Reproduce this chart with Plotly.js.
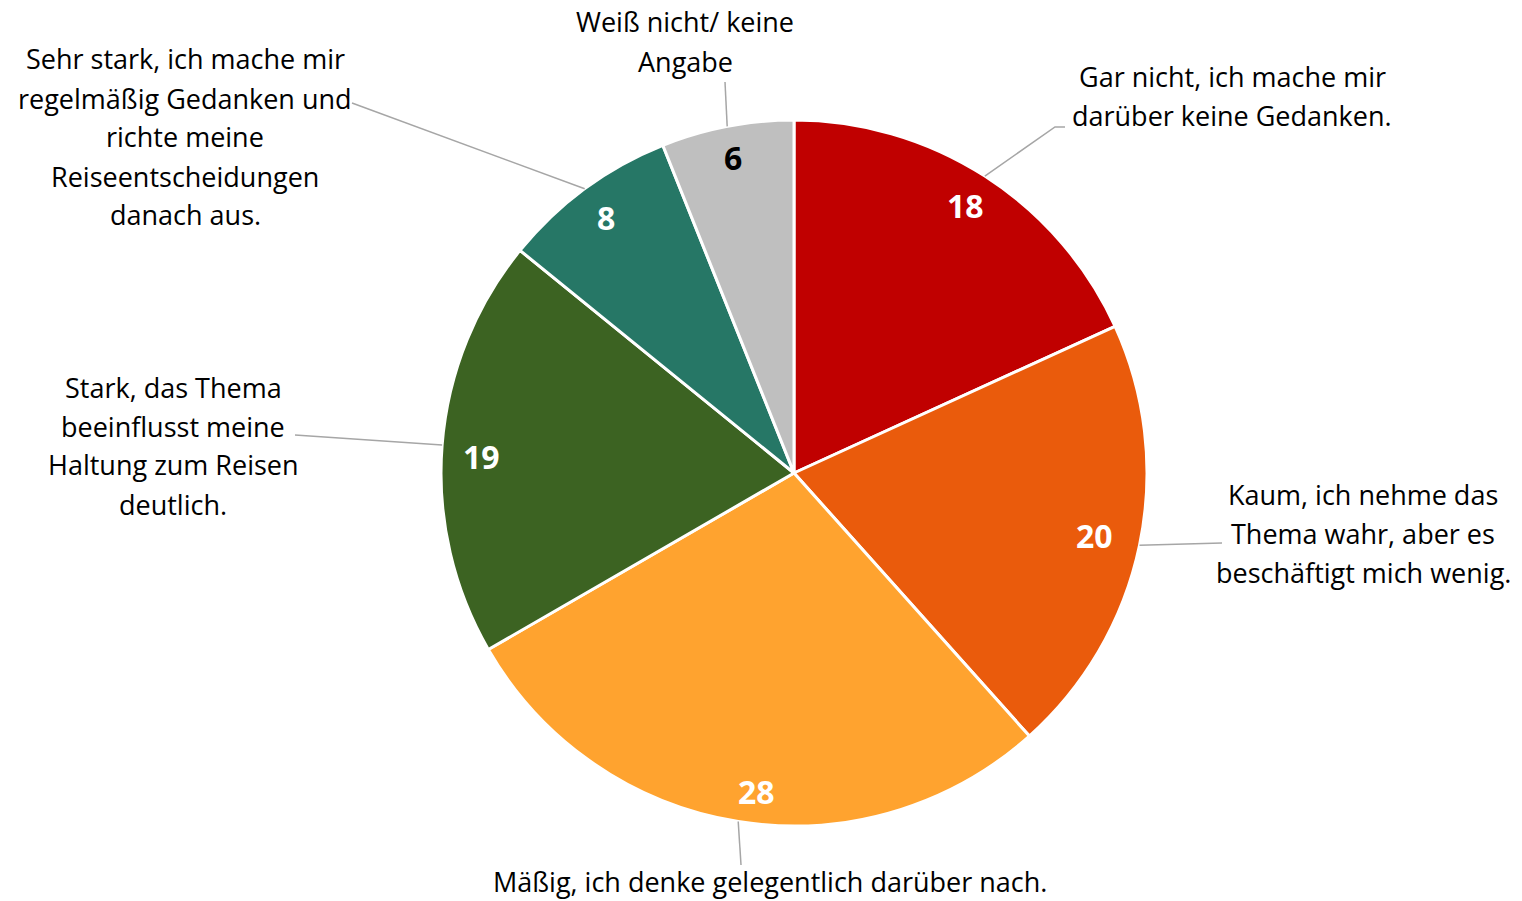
<!DOCTYPE html>
<html>
<head>
<meta charset="utf-8">
<script src="https://cdn.plot.ly/plotly-3.0.1.min.js"></script>
<style>html,body{margin:0;padding:0;background:#fff;}#chart{width:1522px;height:901px;}</style>
</head>
<body>
<div id="chart"></div>
<script>
// ---- data ----
const categories = [
  "Gar nicht, ich mache mir darüber keine Gedanken.",
  "Kaum, ich nehme das Thema wahr, aber es beschäftigt mich wenig.",
  "Mäßig, ich denke gelegentlich darüber nach.",
  "Stark, das Thema beeinflusst meine Haltung zum Reisen deutlich.",
  "Sehr stark, ich mache mir regelmäßig Gedanken und richte meine Reiseentscheidungen danach aus.",
  "Weiß nicht/ keine Angabe"
];
const values = [18, 20, 28, 19, 8, 6];
const labelLines = [
  ["Gar nicht, ich mache mir", "darüber keine Gedanken."],
  ["Kaum, ich nehme das", "Thema wahr, aber es", "beschäftigt mich wenig."],
  ["Mäßig, ich denke gelegentlich darüber nach."],
  ["Stark, das Thema", "beeinflusst meine", "Haltung zum Reisen", "deutlich."],
  ["Sehr stark, ich mache mir", "regelmäßig Gedanken und", "richte meine", "Reiseentscheidungen", "danach aus."],
  ["Weiß nicht/ keine", "Angabe"]
];
const colors = ["#C00000", "#EA5B0C", "#FFA32F", "#3C6322", "#267766", "#BFBFBF"];
const valueTextColors = ["#FFFFFF", "#FFFFFF", "#FFFFFF", "#FFFFFF", "#FFFFFF", "#000000"];

// ---- layout config (pixels) ----
const W = 1522, H = 901;
const CX = 794, CY = 473, R = 353;
const valueRadius = [0.9, 0.87, 0.91, 0.887, 0.9, 0.91];
const valueAngleShift = [0, 0, -2.3, -1.5, 0, 0]; // degrees
const labelPos = [ // center x, first line center y
  [1232, 77], [1363, 494], [770, 881], [173, 387], [185, 59], [685, 22]
];
const leaderPts = [ // intermediate / end points after the slice-edge point
  [[1055, 127], [1065, 127]],
  [[1222, 543]],
  [[741, 865]],
  [[295, 435]],
  [[352, 103]],
  [[725, 82]]
];
const LINE_H = 39;
const FONT = "'Open Sans', 'Noto Sans', sans-serif";

const px = x => x / W;
const py = y => 1 - y / H;

const total = values.reduce((a, b) => a + b, 0);
const annotations = [];
const shapes = [];
let cum = 0;
values.forEach((v, i) => {
  const mid = (cum + v / 2) / total * 2 * Math.PI;
  cum += v;
  // value label
  const rv = valueRadius[i] * R;
  const a = mid + valueAngleShift[i] * Math.PI / 180;
  annotations.push({
    xref: "paper", yref: "paper",
    x: px(CX + rv * Math.sin(a)), y: py(CY - rv * Math.cos(a)),
    text: "<b>" + v + "</b>", showarrow: false,
    xanchor: "center", yanchor: "middle",
    font: {family: FONT, size: 32, color: valueTextColors[i]}
  });
  // leader line
  const ex = CX + R * Math.sin(mid), ey = CY - R * Math.cos(mid);
  let path = "M " + px(ex) + " " + py(ey);
  leaderPts[i].forEach(p => { path += " L " + px(p[0]) + " " + py(p[1]); });
  shapes.push({type: "path", xref: "paper", yref: "paper", path: path,
    line: {color: "#A6A6A6", width: 1.5}});
  // category label lines
  labelLines[i].forEach((t, j) => {
    annotations.push({
      xref: "paper", yref: "paper",
      x: px(labelPos[i][0]), y: py(labelPos[i][1] + j * LINE_H),
      text: t, showarrow: false, xanchor: "center", yanchor: "middle",
      borderpad: 0,
      font: {family: FONT, size: 27, color: "#000000"}
    });
  });
});

const trace = {
  type: "pie",
  labels: categories,
  values: values,
  sort: false,
  direction: "clockwise",
  rotation: 0,
  textinfo: "none",
  hoverinfo: "none",
  marker: {colors: colors, line: {color: "#FFFFFF", width: 3}},
  domain: {x: [px(CX - R), px(CX + R)], y: [py(CY + R), py(CY - R)]}
};

const layout = {
  width: W, height: H,
  margin: {l: 0, r: 0, t: 0, b: 0},
  showlegend: false,
  paper_bgcolor: "#FFFFFF",
  annotations: annotations,
  shapes: shapes
};

Plotly.newPlot("chart", [trace], layout, {displayModeBar: false, staticPlot: true});
</script>
</body>
</html>
